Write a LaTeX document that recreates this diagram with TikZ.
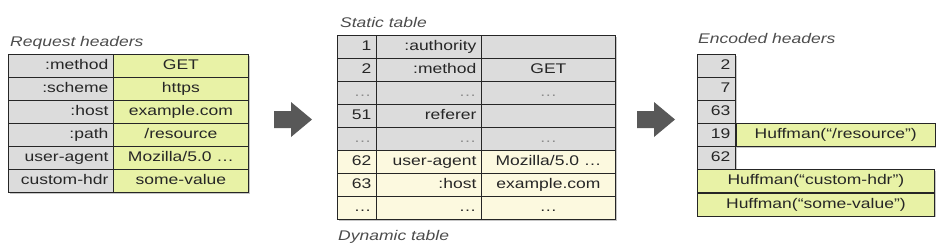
\documentclass[tikz,border=0pt]{standalone}
\usepackage{fontspec}
\setmainfont{Liberation Sans}[FakeStretch=1.25]
\usepackage{xcolor}
\usetikzlibrary{shadows}
\definecolor{keygray}{HTML}{DCDCDC}
\definecolor{valgreen}{HTML}{E8F2A6}
\definecolor{dyncream}{HTML}{FCF9DF}
\definecolor{arrowgray}{HTML}{585858}
\newcommand{\gdots}{\textcolor{black!45}{\dots}}

\begin{document}
\begin{tikzpicture}[x=1pt,y=-1pt,
  cell/.style={draw=black!85,line width=0.8pt,anchor=north west,minimum height=23pt,
    inner xsep=5pt,inner ysep=0pt,text height=10pt,text depth=3pt,
    font=\fontsize{14}{14}\selectfont,text=black!85},
  tabshadow/.style={fill=white,drop shadow={shadow xshift=1.5pt,shadow yshift=-1.5pt,opacity=.45}},
  caption/.style={anchor=base west,inner sep=0pt,font=\fontsize{14}{14}\selectfont\itshape,text=black!70},
  bigarrow/.pic={\fill[arrowgray] (0,-8.5) -- (17,-8.5) -- (17,-17.5) -- (38,0) -- (17,17.5) -- (17,8.5) -- (0,8.5) -- cycle;}]
  \useasboundingbox (0,0) rectangle (952,250);
  % request headers
  \node[caption] (reqlabel) at (10,46) {Request headers};
  \path[tabshadow] (8,54) rectangle (248,192);
  \foreach \k/\v [count=\i from 0] in {{:method}/GET,{:scheme}/https,{:host}/example.com,
      {:path}/{/resource},user-agent/{Mozilla/5.0 \dots},custom-hdr/some-value}{
    \node[cell,fill=keygray,text width=95pt,align=right] (rk\i) at (8,54+23*\i) {\k};
    \node[cell,fill=valgreen,text width=125pt,align=center] (rv\i) at (113,54+23*\i) {\v};
  }
  \pic (arrowA) at (274,119.5) {bigarrow};
  % static and dynamic table
  \node[caption] (statlabel) at (340,27) {Static table};
  \path[tabshadow] (337,35) rectangle (615,219);
  \foreach \n/\k/\v [count=\i from 0] in {1/{:authority}/{},2/{:method}/GET,\gdots/\gdots/\gdots,
      51/referer/{},\gdots/\gdots/\gdots,62/user-agent/{Mozilla/5.0 \dots},63/{:host}/example.com,
      \dots/\dots/\dots}{
    \ifnum\i<5 \def\rowfill{keygray}\else\def\rowfill{dyncream}\fi
    \node[cell,fill=\rowfill,text width=29pt,align=right] (sn\i) at (337,35+23*\i) {\n};
    \node[cell,fill=\rowfill,text width=95pt,align=right] (sk\i) at (376,35+23*\i) {\k};
    \node[cell,fill=\rowfill,text width=124pt,align=center] (sv\i) at (481,35+23*\i) {\v};
  }
  \node[caption] (dynlabel) at (338,240) {Dynamic table};
  \pic (arrowB) at (637,119.5) {bigarrow};
  % encoded headers
  \node[caption] (enclabel) at (698,43) {Encoded headers};
  \path[tabshadow] (697,54) rectangle (735,169);
  \path[tabshadow] (735,123) rectangle (934,146);
  \path[tabshadow] (697,169) rectangle (934,215);
  \foreach \n [count=\i from 0] in {2,7,63,19,62}
    \node[cell,fill=keygray,text width=28pt,align=right] (en\i) at (697,54+23*\i) {\n};
  \node[cell,fill=valgreen,text width=189pt,align=center] (eh0) at (en3.north east) {Huffman(“/resource")};
  \node[cell,fill=valgreen,text width=227pt,align=center] (eh1) at (697,169) {Huffman(“custom-hdr")};
  \node[cell,fill=valgreen,text width=227pt,align=center] (eh2) at (eh1.south west) {Huffman(“some-value")};
\end{tikzpicture}
\end{document}
